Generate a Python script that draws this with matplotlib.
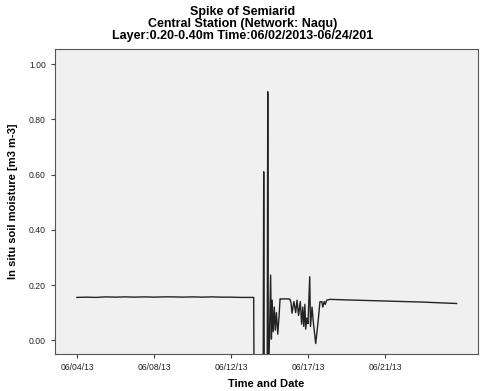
import numpy as np
import matplotlib
matplotlib.use("Agg")
import matplotlib.pyplot as plt

plt.rcParams['font.family'] = ['Liberation Sans', 'DejaVu Sans']

# time in days since 06/04/13, soil moisture in m3 m-3
days = [0.0, 0.5, 1.0, 1.5, 2.0, 2.5, 3.0, 3.5, 4.0, 4.5, 5.0, 5.5, 6.0, 6.5, 7.0,
        7.5, 8.0, 8.5, 9.0, 9.18,
        9.20, 9.67, 9.70, 9.73, 9.88, 9.91, 9.94,
        10.06, 10.10, 10.14, 10.19, 10.25, 10.30, 10.36, 10.43, 10.50, 10.55, 10.60,
        10.80, 11.06, 11.12, 11.17, 11.27, 11.36, 11.43, 11.51, 11.60, 11.67, 11.73,
        11.78, 11.84, 11.88, 11.94, 12.00, 12.09, 12.13, 12.21, 12.27, 12.40, 12.53,
        12.62, 12.72, 12.77, 12.84, 12.90, 12.97, 13.14,
        14.0, 15.0, 16.0, 17.0, 18.0, 19.0, 19.72]
sm = [0.155, 0.156, 0.155, 0.157, 0.156, 0.157, 0.156, 0.157, 0.156, 0.157, 0.157, 0.156, 0.157, 0.156, 0.157,
      0.156, 0.156, 0.155, 0.155, 0.155,
      -0.2, -0.2, 0.61, -0.2, -0.2, 0.90, -0.2,
      0.236, 0.004, 0.145, 0.03, 0.12, 0.036, 0.10, 0.022, 0.09, 0.15, 0.149,
      0.150, 0.149, 0.135, 0.098, 0.14, 0.10, 0.145, 0.09, 0.14, 0.058, 0.12,
      0.05, 0.13, 0.04, 0.08, 0.06, 0.23, 0.05, 0.12, 0.07, -0.012, 0.07,
      0.139, 0.14, 0.12, 0.14, 0.13, 0.145, 0.148,
      0.146, 0.144, 0.142, 0.140, 0.138, 0.135, 0.133]

tick_pos = [0, 4, 8, 12, 16]
tick_labels = ["06/04/13", "06/08/13", "06/12/13", "06/17/13", "06/21/13"]
y_ticks = [0.0, 0.2, 0.4, 0.6, 0.8, 1.0]

fig = plt.figure(figsize=(4.8, 3.91), dpi=100)
ax = fig.add_axes([0.1146, 0.0946, 0.8812, 0.7801])
ax.set_facecolor("#f0f0f0")
ax.plot(days, sm, color="#222222", lw=1.0)

ax.set_xlim(-1.14, 20.83)
ax.set_ylim(-0.05, 1.055)
ax.set_xticks(tick_pos)
ax.set_xticklabels(tick_labels)
ax.set_yticks(y_ticks)
ax.set_yticklabels(["%.2f" % v for v in y_ticks])
ax.tick_params(labelsize=6.2, length=3, color="#444444", labelcolor="#222222")
for s in ax.spines.values():
    s.set_color("#555555")
    s.set_linewidth(0.8)

ax.set_xlabel("Time and Date", fontsize=8, fontweight="bold", labelpad=5)
ax.set_ylabel("In situ soil moisture [m3 m-3]", fontsize=8, fontweight="bold", labelpad=8)

fig.text(0.505, 0.985, "Spike of Semiarid\nCentral Station (Network: Naqu)\nLayer:0.20-0.40m Time:06/02/2013-06/24/201",
         ha="center", va="top", fontsize=9, fontweight="bold", linespacing=1.0)

fig.savefig("out.png", dpi=100)
